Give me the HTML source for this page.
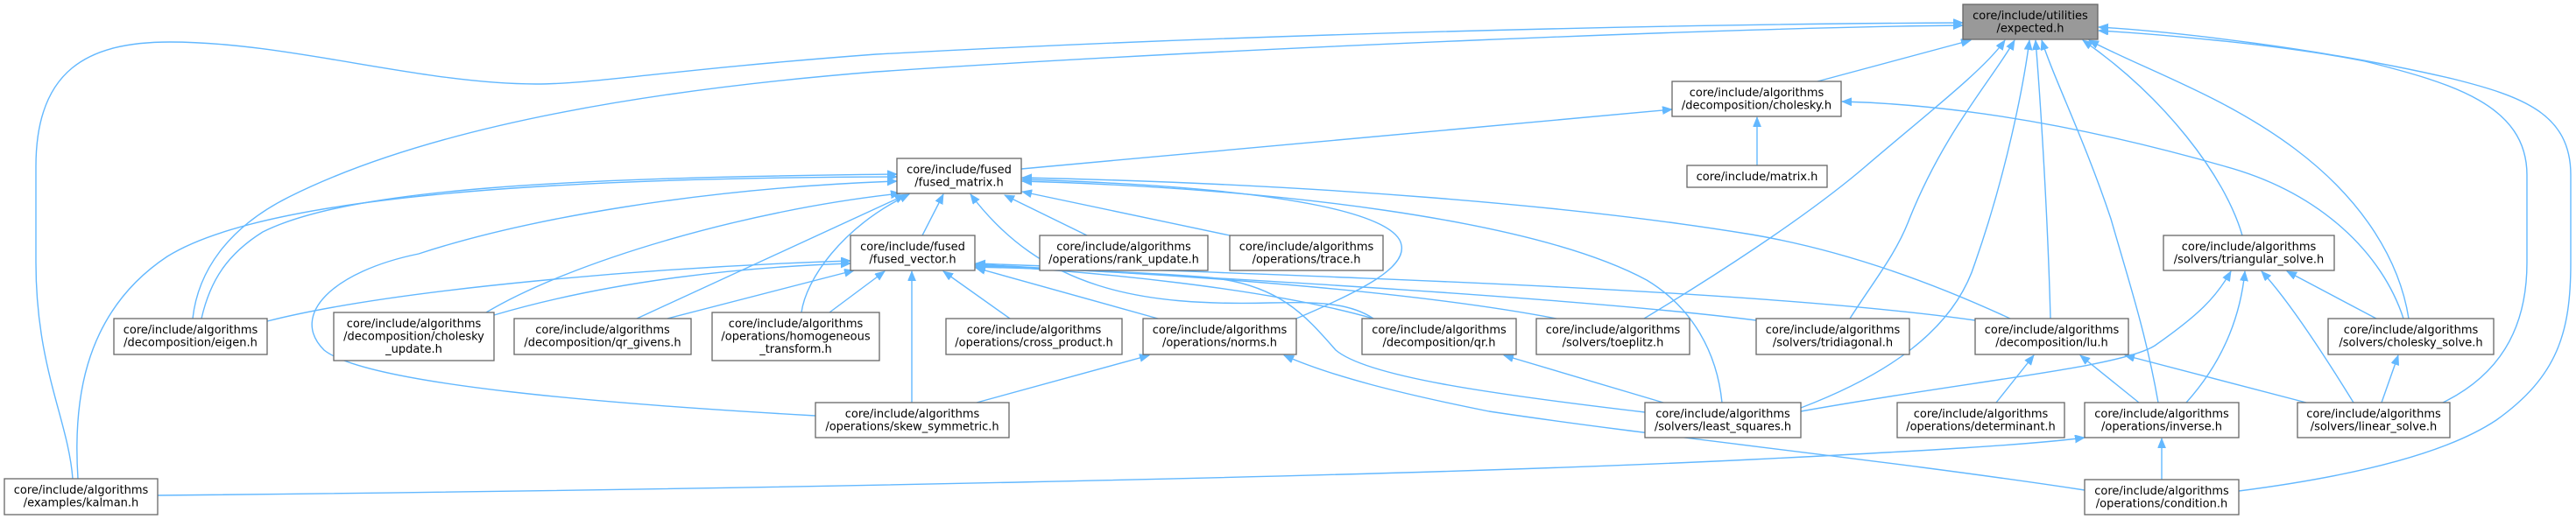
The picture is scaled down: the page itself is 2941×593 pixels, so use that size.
<!DOCTYPE html>
<html>
<head>
<meta charset="utf-8">
<style>
  html,body{margin:0;padding:0;background:#ffffff;}
  body{width:2941px;height:593px;overflow:hidden;}
  svg{display:block;}
  .e{fill:none;stroke:#63b8ff;stroke-width:1.4;}
  .n{fill:#ffffff;stroke:#666666;stroke-width:1.3;}
  .r{fill:#999999;stroke:#666666;stroke-width:1.3;}
  text{font-family:"DejaVu Sans","Liberation Sans",sans-serif;font-size:13px;fill:#000;text-anchor:middle;}
</style>
</head>
<body>
<svg width="2941" height="593" viewBox="0 0 2941 593" xmlns="http://www.w3.org/2000/svg">
<defs>
  <marker id="a" markerWidth="12" markerHeight="10" refX="11" refY="4.5" orient="auto" markerUnits="userSpaceOnUse">
    <path d="M0,0 L11,4.5 L0,9 z" fill="#63b8ff" stroke="#63b8ff" stroke-width="0.8"/>
  </marker>
</defs>

<!-- ===== Edges into expected.h ===== -->
<path class="e" marker-end="url(#a)" d="M83,547 C78,480 41,420 41,300 L41,190 C41,80 100,48 194,48 C330,48 480,96 612,96 C680,96 760,80 1000,62 C1500,35 2000,27 2241,26"/>
<path class="e" marker-end="url(#a)" d="M220,364 C226,310 260,260 330,225 C450,165 650,110 1000,82 C1400,55 2000,31 2241,29"/>
<path class="e" marker-end="url(#a)" d="M2075,93 L2250,46"/>
<path class="e" marker-end="url(#a)" d="M1877,364 C1950,320 2060,250 2130,190 C2200,130 2265,80 2289,46"/>
<path class="e" marker-end="url(#a)" d="M2112,364 C2140,320 2165,290 2180,250 C2220,150 2275,90 2300,46"/>
<path class="e" marker-end="url(#a)" d="M2056,466 C2150,430 2230,380 2255,300 C2290,200 2310,100 2317,46"/>
<path class="e" marker-end="url(#a)" d="M2341,364 C2338,250 2330,120 2324,46"/>
<path class="e" marker-end="url(#a)" d="M2464,460 C2450,380 2430,320 2410,250 C2380,160 2345,90 2331,46"/>
<path class="e" marker-end="url(#a)" d="M2560,269 C2540,200 2470,110 2378,46"/>
<path class="e" marker-end="url(#a)" d="M2750,364 C2740,300 2700,230 2620,170 C2540,110 2450,80 2385,46"/>
<path class="e" marker-end="url(#a)" d="M2789,460 C2850,430 2885,380 2885,300 L2885,200 C2885,120 2800,95 2700,70 C2600,50 2450,38 2396,35"/>
<path class="e" marker-end="url(#a)" d="M2556,561 C2680,545 2790,520 2850,480 C2920,430 2935,380 2935,300 L2935,200 C2935,130 2880,110 2800,90 C2650,55 2480,36 2396,31"/>

<!-- ===== Edges into cholesky.h ===== -->
<path class="e" marker-end="url(#a)" d="M1166,193 L1909,125"/>
<path class="e" marker-end="url(#a)" d="M2006,189 L2006,134"/>
<path class="e" marker-end="url(#a)" d="M2744,364 C2720,290 2650,220 2540,190 C2400,150 2250,120 2103,116"/>

<!-- ===== Edges into fused_matrix.h ===== -->
<path class="e" marker-end="url(#a)" d="M1053,269 L1077,222"/>
<path class="e" marker-end="url(#a)" d="M1241,269 L1147,223"/>
<path class="e" marker-end="url(#a)" d="M1404,269 L1167,219"/>
<path class="e" marker-end="url(#a)" d="M89,547 C84,470 90,360 191,293 C300,225 620,203 1024,202"/>
<path class="e" marker-end="url(#a)" d="M230,364 C240,320 260,290 300,265 C400,215 650,203 1024,199"/>
<path class="e" marker-end="url(#a)" d="M931,475 C700,462 420,440 370,400 C330,360 380,310 478,290 C600,250 800,215 1024,207"/>
<path class="e" marker-end="url(#a)" d="M555,357 C650,300 850,240 1028,221"/>
<path class="e" marker-end="url(#a)" d="M727,364 L1033,223"/>
<path class="e" marker-end="url(#a)" d="M915,357 C920,320 960,260 1038,222"/>
<path class="e" marker-end="url(#a)" d="M1480,364 C1560,330 1605,305 1600,280 C1595,250 1500,215 1167,205"/>
<path class="e" marker-end="url(#a)" d="M1966,460 C1960,400 1930,350 1880,320 C1750,250 1450,215 1167,207"/>
<path class="e" marker-end="url(#a)" d="M2295,364 C2200,320 2100,285 2000,268 C1800,235 1500,210 1167,203"/>
<path class="e" marker-end="url(#a)" d="M1568,364 C1540,345 1500,345 1450,346 C1300,350 1190,330 1108,222"/>

<!-- ===== Edges into fused_vector.h ===== -->
<path class="e" marker-end="url(#a)" d="M305,367 C450,330 750,305 971,298"/>
<path class="e" marker-end="url(#a)" d="M564,360 C700,320 850,305 971,301"/>
<path class="e" marker-end="url(#a)" d="M762,364 L975,309"/>
<path class="e" marker-end="url(#a)" d="M947,357 L1010,310"/>
<path class="e" marker-end="url(#a)" d="M1041,460 L1041,310"/>
<path class="e" marker-end="url(#a)" d="M1153,364 L1077,310"/>
<path class="e" marker-end="url(#a)" d="M1322,364 L1114,306"/>
<path class="e" marker-end="url(#a)" d="M1568,364 C1450,330 1250,310 1114,303"/>
<path class="e" marker-end="url(#a)" d="M1777,364 C1600,330 1300,310 1114,304"/>
<path class="e" marker-end="url(#a)" d="M2005,366 C1800,340 1400,318 1114,302"/>
<path class="e" marker-end="url(#a)" d="M2255,366 C2000,330 1500,316 1114,301"/>
<path class="e" marker-end="url(#a)" d="M1878,471 C1700,450 1560,430 1525,400 C1490,360 1460,325 1380,317 C1300,310 1180,307 1114,305"/>

<!-- ===== Other edges ===== -->
<path class="e" marker-end="url(#a)" d="M1115,460 L1312,406"/>
<path class="e" marker-end="url(#a)" d="M2380,560 C2150,525 1900,500 1700,470 C1600,450 1520,430 1466,406"/>
<path class="e" marker-end="url(#a)" d="M1899,460 L1717,406"/>
<path class="e" marker-end="url(#a)" d="M2279,460 L2322,406"/>
<path class="e" marker-end="url(#a)" d="M2442,460 L2375,406"/>
<path class="e" marker-end="url(#a)" d="M2633,460 L2426,406"/>
<path class="e" marker-end="url(#a)" d="M2056,470 C2250,435 2420,420 2460,395 C2510,360 2530,340 2547,310"/>
<path class="e" marker-end="url(#a)" d="M2496,460 C2550,400 2560,340 2563,310"/>
<path class="e" marker-end="url(#a)" d="M2687,460 C2650,400 2610,340 2582,310"/>
<path class="e" marker-end="url(#a)" d="M2713,364 L2611,310"/>
<path class="e" marker-end="url(#a)" d="M2719,460 L2738,406"/>
<path class="e" marker-end="url(#a)" d="M2468,548 L2468,501"/>
<path class="e" marker-end="url(#a)" d="M180,566 C800,560 1600,545 2000,525 C2200,515 2320,508 2380,500"/>

<!-- ===== Nodes ===== -->
<!-- expected.h (root) -->
<rect class="r" x="2241" y="5" width="154" height="40"/>
<text x="2318" y="22">core/include/utilities</text>
<text x="2318" y="36.5">/expected.h</text>

<!-- cholesky.h -->
<rect class="n" x="1909" y="93" width="193" height="40"/>
<text x="2005.5" y="110">core/include/algorithms</text>
<text x="2005.5" y="124.5">/decomposition/cholesky.h</text>

<!-- matrix.h -->
<rect class="n" x="1926" y="189" width="160" height="25"/>
<text x="2006" y="206">core/include/matrix.h</text>

<!-- fused_matrix.h -->
<rect class="n" x="1024" y="181" width="142" height="40"/>
<text x="1095" y="198">core/include/fused</text>
<text x="1095" y="212.5">/fused_matrix.h</text>

<!-- triangular_solve.h -->
<rect class="n" x="2470" y="269" width="195" height="40"/>
<text x="2567.5" y="286">core/include/algorithms</text>
<text x="2567.5" y="300.5">/solvers/triangular_solve.h</text>

<!-- fused_vector.h -->
<rect class="n" x="971" y="269" width="142" height="40"/>
<text x="1042" y="286">core/include/fused</text>
<text x="1042" y="300.5">/fused_vector.h</text>

<!-- rank_update.h -->
<rect class="n" x="1187" y="269" width="192" height="40"/>
<text x="1283" y="286">core/include/algorithms</text>
<text x="1283" y="300.5">/operations/rank_update.h</text>

<!-- trace.h -->
<rect class="n" x="1404" y="269" width="175" height="40"/>
<text x="1491.5" y="286">core/include/algorithms</text>
<text x="1491.5" y="300.5">/operations/trace.h</text>

<!-- eigen.h -->
<rect class="n" x="130" y="364" width="175" height="41"/>
<text x="217.5" y="381">core/include/algorithms</text>
<text x="217.5" y="395.5">/decomposition/eigen.h</text>

<!-- cholesky_update.h -->
<rect class="n" x="381" y="357" width="183" height="55"/>
<text x="472.5" y="374">core/include/algorithms</text>
<text x="472.5" y="388.5">/decomposition/cholesky</text>
<text x="472.5" y="403">_update.h</text>

<!-- qr_givens.h -->
<rect class="n" x="587" y="364" width="202" height="41"/>
<text x="688" y="381">core/include/algorithms</text>
<text x="688" y="395.5">/decomposition/qr_givens.h</text>

<!-- homogeneous_transform.h -->
<rect class="n" x="813" y="357" width="191" height="55"/>
<text x="908.5" y="374">core/include/algorithms</text>
<text x="908.5" y="388.5">/operations/homogeneous</text>
<text x="908.5" y="403">_transform.h</text>

<!-- cross_product.h -->
<rect class="n" x="1080" y="364" width="201" height="41"/>
<text x="1180.5" y="381">core/include/algorithms</text>
<text x="1180.5" y="395.5">/operations/cross_product.h</text>

<!-- norms.h -->
<rect class="n" x="1305" y="364" width="175" height="41"/>
<text x="1392.5" y="381">core/include/algorithms</text>
<text x="1392.5" y="395.5">/operations/norms.h</text>

<!-- qr.h -->
<rect class="n" x="1555" y="364" width="176" height="41"/>
<text x="1643" y="381">core/include/algorithms</text>
<text x="1643" y="395.5">/decomposition/qr.h</text>

<!-- toeplitz.h -->
<rect class="n" x="1754" y="364" width="175" height="41"/>
<text x="1841.5" y="381">core/include/algorithms</text>
<text x="1841.5" y="395.5">/solvers/toeplitz.h</text>

<!-- tridiagonal.h -->
<rect class="n" x="2005" y="364" width="175" height="41"/>
<text x="2092.5" y="381">core/include/algorithms</text>
<text x="2092.5" y="395.5">/solvers/tridiagonal.h</text>

<!-- lu.h -->
<rect class="n" x="2255" y="364" width="175" height="41"/>
<text x="2342.5" y="381">core/include/algorithms</text>
<text x="2342.5" y="395.5">/decomposition/lu.h</text>

<!-- cholesky_solve.h -->
<rect class="n" x="2658" y="364" width="189" height="41"/>
<text x="2752.5" y="381">core/include/algorithms</text>
<text x="2752.5" y="395.5">/solvers/cholesky_solve.h</text>

<!-- skew_symmetric.h -->
<rect class="n" x="931" y="460" width="221" height="40"/>
<text x="1041.5" y="477">core/include/algorithms</text>
<text x="1041.5" y="491.5">/operations/skew_symmetric.h</text>

<!-- least_squares.h -->
<rect class="n" x="1878" y="460" width="178" height="40"/>
<text x="1967" y="477">core/include/algorithms</text>
<text x="1967" y="491.5">/solvers/least_squares.h</text>

<!-- determinant.h -->
<rect class="n" x="2166" y="460" width="191" height="40"/>
<text x="2261.5" y="477">core/include/algorithms</text>
<text x="2261.5" y="491.5">/operations/determinant.h</text>

<!-- inverse.h -->
<rect class="n" x="2380" y="460" width="176" height="40"/>
<text x="2468" y="477">core/include/algorithms</text>
<text x="2468" y="491.5">/operations/inverse.h</text>

<!-- linear_solve.h -->
<rect class="n" x="2623" y="460" width="174" height="40"/>
<text x="2710" y="477">core/include/algorithms</text>
<text x="2710" y="491.5">/solvers/linear_solve.h</text>

<!-- kalman.h -->
<rect class="n" x="5" y="547" width="175" height="41"/>
<text x="92.5" y="564">core/include/algorithms</text>
<text x="92.5" y="578.5">/examples/kalman.h</text>

<!-- condition.h -->
<rect class="n" x="2380" y="548" width="176" height="40"/>
<text x="2468" y="565">core/include/algorithms</text>
<text x="2468" y="579.5">/operations/condition.h</text>
</svg>
</body>
</html>
